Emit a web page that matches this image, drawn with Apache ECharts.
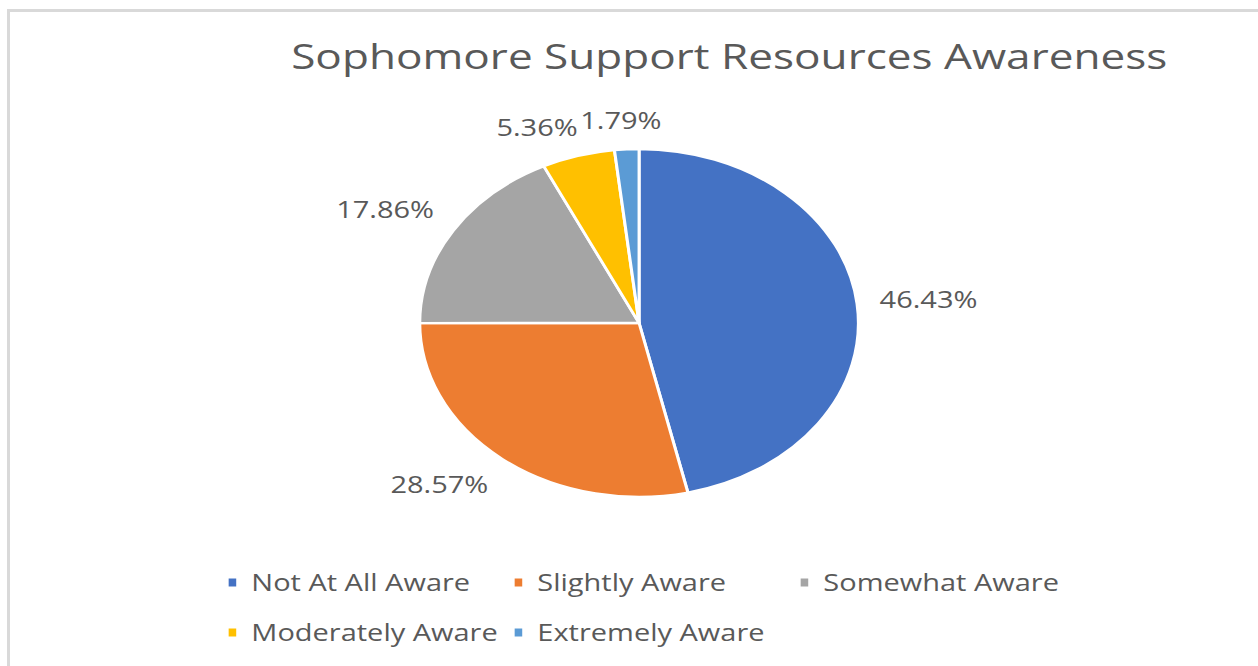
<!DOCTYPE html>
<html>
<head>
<meta charset="utf-8">
<script src="https://cdn.jsdelivr.net/npm/echarts@6/dist/echarts.min.js"></script>
<style>
  html, body { margin: 0; padding: 0; background: #ffffff; overflow: hidden; }
  body { width: 1258px; height: 666px; position: relative; }
  #frame {
    position: absolute; left: 7px; top: 9px; width: 1300px; height: 700px;
    border: 3px solid #d9d9d9; box-sizing: border-box;
  }
  /* the chart is laid out on a narrower canvas and widened horizontally */
  #chart {
    position: absolute; left: 0; top: 0; width: 998px; height: 666px;
    transform: scaleX(1.2605); transform-origin: 0 0;
  }
</style>
</head>
<body>
<div id="frame"></div>
<div id="chart"></div>
<script>
const titleText = 'Sophomore Support Resources Awareness';
const categories = ['Not At All Aware', 'Slightly Aware', 'Somewhat Aware', 'Moderately Aware', 'Extremely Aware'];
const percentages = [46.43, 28.57, 17.86, 5.36, 1.79];
const sliceColors = ['#4472C4', '#ED7D31', '#A5A5A5', '#FFC000', '#5B9BD5'];

const FONT = '"Open Sans", "Noto Sans", sans-serif';
const TEXT_COLOR = '#595959';
const CX = 507, CY = 323, R = 174;
const LABEL_SIZE = 23;
const LABEL_GAP = 18;
const TITLE_SIZE = 35;
const TITLE_CENTER_X = 578.6;
const LEGEND_SIZE = 23;
const LEGEND_LEFT = 179.4;
const LEGEND_COL_W = 226.9;
const LEGEND_COLS = 3;
const LEGEND_TOPS = [571, 621];

const measureCtx = document.createElement('canvas').getContext('2d');
function textWidth(text, size) {
  measureCtx.font = size + 'px ' + FONT;
  return measureCtx.measureText(text).width;
}
function labelText(v) { return v.toFixed(2) + '%'; }
function clamp1(v) { return Math.max(-1, Math.min(1, v)); }

// anchor each percentage label on its slice's mid-angle ray just outside the rim,
// hang the label box off that anchor on the outward side, then nudge labels
// sideways (last slice first) so that none overlap
function computeLabelPositions() {
  const total = percentages.reduce((a, b) => a + b, 0);
  let acc = 0;
  const boxes = percentages.map((v) => {
    const mid = (acc + v / 2) / total * Math.PI * 2;
    acc += v;
    const dx = Math.sin(mid), dy = -Math.cos(mid);
    const w = textWidth(labelText(v), LABEL_SIZE);
    const h = LABEL_SIZE;
    const ax = CX + dx * (R + LABEL_GAP), ay = CY + dy * (R + LABEL_GAP);
    return {
      x: ax + w / 2 * clamp1(2 * dx),
      y: ay + h / 2 * clamp1(2 * dy),
      w, h, dx
    };
  });
  const placed = [];
  for (let i = boxes.length - 1; i >= 0; i--) {
    const b = boxes[i];
    for (const p of placed) {
      const overlapX = Math.abs(b.x - p.x) < (b.w + p.w) / 2 + 2;
      const overlapY = Math.abs(b.y - p.y) < (b.h + p.h) / 2;
      if (overlapX && overlapY) {
        const side = b.dx < 0 ? -1 : 1;
        b.x = p.x + side * ((b.w + p.w) / 2 + 2);
      }
    }
    placed.push(b);
  }
  return boxes;
}
const labelPos = computeLabelPositions();

const titleW = textWidth(titleText, TITLE_SIZE);

// legend entries sit in a grid of fixed-width columns, three per row
const legends = categories.map((name, i) => ({
  data: [name],
  orient: 'horizontal',
  left: LEGEND_LEFT + (i % LEGEND_COLS) * LEGEND_COL_W,
  top: LEGEND_TOPS[Math.floor(i / LEGEND_COLS)],
  padding: 0,
  itemWidth: 8,
  itemHeight: 10,
  icon: 'rect',
  formatter: (n) => '{t|' + n + '}',
  textStyle: {
    fontFamily: FONT, fontSize: LEGEND_SIZE, color: TEXT_COLOR,
    rich: { t: { fontFamily: FONT, fontSize: LEGEND_SIZE, color: TEXT_COLOR, padding: [0, 0, 0, 6] } }
  }
}));

const chart = echarts.init(document.getElementById('chart'), null, { renderer: 'svg' });
chart.setOption({
  backgroundColor: 'transparent',
  animation: false,
  color: sliceColors,
  title: {
    text: titleText,
    left: TITLE_CENTER_X - titleW / 2,
    top: 38,
    padding: 0,
    textStyle: { fontFamily: FONT, fontSize: TITLE_SIZE, fontWeight: 'normal', color: TEXT_COLOR }
  },
  legend: legends,
  series: [{
    type: 'pie',
    center: [CX, CY],
    radius: R,
    startAngle: 90,
    clockwise: true,
    avoidLabelOverlap: false,
    itemStyle: { borderColor: '#ffffff', borderWidth: 2.4 },
    label: {
      show: true,
      position: 'outside',
      formatter: (p) => labelText(p.value),
      fontFamily: FONT,
      fontSize: LABEL_SIZE,
      color: TEXT_COLOR
    },
    labelLine: { show: false },
    labelLayout: (params) => {
      const p = labelPos[params.dataIndex];
      return { x: p.x, y: p.y, align: 'center', verticalAlign: 'middle' };
    },
    emphasis: { disabled: true },
    data: categories.map((name, i) => ({ name, value: percentages[i] }))
  }]
});
</script>
</body>
</html>
